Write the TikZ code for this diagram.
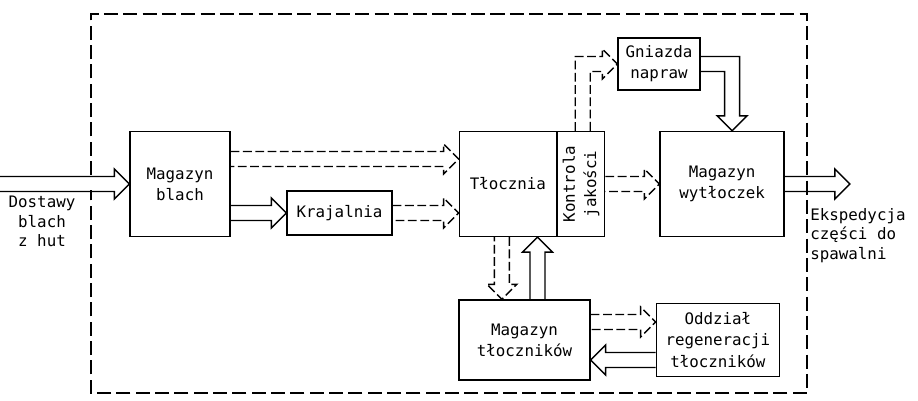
\documentclass[tikz,border=0pt]{standalone}
\usepackage{fontspec}
\setmonofont{DejaVu Sans Mono}
\usepackage{graphicx}
\usepackage{tikz}
\usetikzlibrary{positioning,calc}

% double-line flow arrow from #2 to #3 (#3 may use fa, the start point)
\newcommand{\flow}[3][]{%
  \coordinate (fa) at (#2);
  \coordinate (fb) at (#3);
  \coordinate (fc) at ($(fb)!0.3cm!(fa)$);
  \draw[flowline,#1] ($(fa)!0.15cm!90:(fb)$) -- ($(fc)!0.15cm!-90:(fa)$)
    -- ($(fc)!0.3cm!-90:(fa)$) -- (fb) -- ($(fc)!0.3cm!90:(fa)$)
    -- ($(fc)!0.15cm!90:(fa)$) -- ($(fa)!0.15cm!-90:(fb)$);
}

\begin{document}
\begin{tikzpicture}[x=0.02cm,y=-0.02cm,
  box/.style={draw,line width=0.8pt,align=center,inner sep=0pt,
    font=\ttfamily\fontsize{9}{12}\selectfont},
  txt/.style={align=center,inner sep=0pt,
    font=\ttfamily\fontsize{9}{11}\selectfont},
  flowline/.style={line width=0.8pt,line join=miter},
  dflow/.style={dash pattern=on 5pt off 2pt},
  frame/.style={line width=0.8pt,dash pattern=on 8pt off 3pt},
]
  \useasboundingbox (0,0) rectangle (918,401);

  % departments
  \node[box,minimum width=2cm,minimum height=2.1cm] (blach) at (180,184) {Magazyn\\blach};
  \node[box,minimum width=2.1cm,minimum height=0.88cm] (krajalnia) at (339.5,213) {Krajalnia};
  \node[box,minimum width=1.94cm,minimum height=2.1cm,right=4.56cm of blach] (tlocznia) {Tłocznia};
  \node[box,minimum width=0.94cm,minimum height=2.1cm,right=0pt of tlocznia] (kontrola)
    {\rotatebox{90}{\begin{tabular}{@{}c@{}}Kontrola\\jakości\end{tabular}}};
  \node[box,minimum width=2.48cm,minimum height=2.1cm,right=1.08cm of kontrola] (wytloczek) {Magazyn\\wytłoczek};
  \node[box,minimum width=1.64cm,minimum height=1.04cm] (gniazda) at (659,64) {Gniazda\\napraw};
  \node[box,minimum width=2.62cm,minimum height=1.6cm] (tlocznikow) at (524.5,340) {Magazyn\\tłoczników};
  \node[box,minimum width=2.46cm,minimum height=1.46cm,right=1.3cm of tlocznikow] (oddzial)
    {Oddział\\regeneracji\\tłoczników};

  % outside
  \coordinate[left=2.6cm of blach.west] (src);
  \coordinate[right=1.3cm of wytloczek.east] (dst);
  \node[txt,anchor=north] (dostawy) at (42,196) {Dostawy\\blach\\z hut};
  \node[txt,anchor=north west,align=left] (ekspedycja) at (810,208) {Ekspedycja\\części do\\spawalni};

  % plant boundary
  \draw[frame] (91,175) |- (807,14) |- (91,393) -- (91,190);

  % flows
  \flow{src}{blach.west}
  \flow[dflow]{$(blach.east)+(0,-25)$}{tlocznia.west |- fa}
  \flow{blach.east |- krajalnia.west}{krajalnia.west}
  \flow[dflow]{krajalnia.east}{tlocznia.west |- krajalnia.east}
  \flow[dflow]{kontrola.east}{wytloczek.west}
  \flow{wytloczek.east}{dst}
  \flow[dflow]{$(tlocznia.south)+(-6,0)$}{tlocznikow.north -| fa}
  \flow{$(tlocznikow.north)+(13,0)$}{tlocznia.south -| fa}
  \flow[dflow]{$(tlocznikow.east)+(0,-18)$}{oddzial.west |- fa}
  \flow{$(oddzial.west)+(0,20)$}{tlocznikow.east |- fa}

  % repairs loop
  \draw[flowline,dflow] ($(kontrola.north)+(-6,0)$) |- ($(gniazda.west)+(-15,-7.5)$)
    -- ++(0,-7.5) -- (gniazda.west) -- ++(-15,15) -- ++(0,-7.5) -| ($(kontrola.north)+(9,0)$);
  \coordinate (gtip) at ($(wytloczek.north)+(10,0)$);
  \draw[flowline] ($(gniazda.east)+(0,-7.5)$) -| ($(gtip)+(7.5,-15)$) -- ++(7.5,0)
    -- (gtip) -- ++(-15,-15) -- ++(7.5,0) |- ($(gniazda.east)+(0,7.5)$);
\end{tikzpicture}
\end{document}
